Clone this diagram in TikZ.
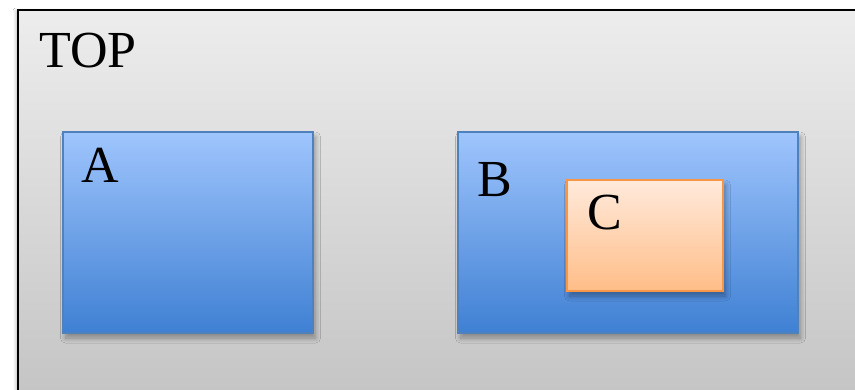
\documentclass[tikz,border=0pt]{standalone}
\usepackage{fontspec}
\setmainfont{Liberation Serif}
\usetikzlibrary{shadows.blur}
\definecolor{topfillA}{HTML}{EDEDED}
\definecolor{topfillB}{HTML}{C3C3C3}
\definecolor{bluefillA}{HTML}{9FC5FD}
\definecolor{bluefillB}{HTML}{3F80D3}
\definecolor{blueline}{HTML}{4F81BD}
\definecolor{orangefillA}{HTML}{FFEADB}
\definecolor{orangefillB}{HTML}{FFBD88}
\definecolor{orangeline}{HTML}{F79646}
\tikzset{
  block/.style={rectangle, inner sep=0pt, outer sep=0pt},
  topbox/.style={block, draw=black, line width=2pt, top color=topfillA, bottom color=topfillB,
    blur shadow={shadow xshift=-2pt, shadow yshift=-1pt, shadow blur radius=3pt, shadow blur steps=8, shadow opacity=25}},
  bluebox/.style={block, draw=blueline, line width=1.4pt, top color=bluefillA, bottom color=bluefillB,
    blur shadow={shadow xshift=2.5pt, shadow yshift=-5pt, shadow blur radius=5pt, shadow blur steps=12, shadow opacity=35}},
  orangebox/.style={block, draw=orangeline, line width=1.6pt, top color=orangefillA, bottom color=orangefillB,
    blur shadow={shadow xshift=2.5pt, shadow yshift=-5pt, shadow blur radius=5pt, shadow blur steps=12, shadow opacity=35}},
  lbl/.style={inner sep=0pt, anchor=base west, font=\fontsize{52}{52}\selectfont}
}
\begin{document}
\begin{tikzpicture}[x=1pt, y=-1pt]
  \useasboundingbox (0,0) rectangle (855,390);
  \fill[white] (0,0) rectangle (855,390);
  \begin{scope}
    \clip (0,0) rectangle (855,390);
    % outer container
    \node[topbox, minimum width=860pt, minimum height=400pt, anchor=north west] (top) at (18,10) {};
    \node[lbl] (toplabel) at (39,68) {TOP};
    % block A
    \node[bluebox, minimum width=250pt, minimum height=201pt, anchor=north west] (a) at (63,132) {};
    \node[lbl] (alabel) at (81,183) {A};
    % block B with nested C
    \node[bluebox, minimum width=340pt, minimum height=201pt, anchor=north west] (b) at (458,132) {};
    \node[lbl] (blabel) at (477,197) {B};
    \node[orangebox, minimum width=156pt, minimum height=111pt, anchor=north west] (c) at (567,180) {};
    \node[lbl] (clabel) at (587,230) {C};
  \end{scope}
\end{tikzpicture}
\end{document}
